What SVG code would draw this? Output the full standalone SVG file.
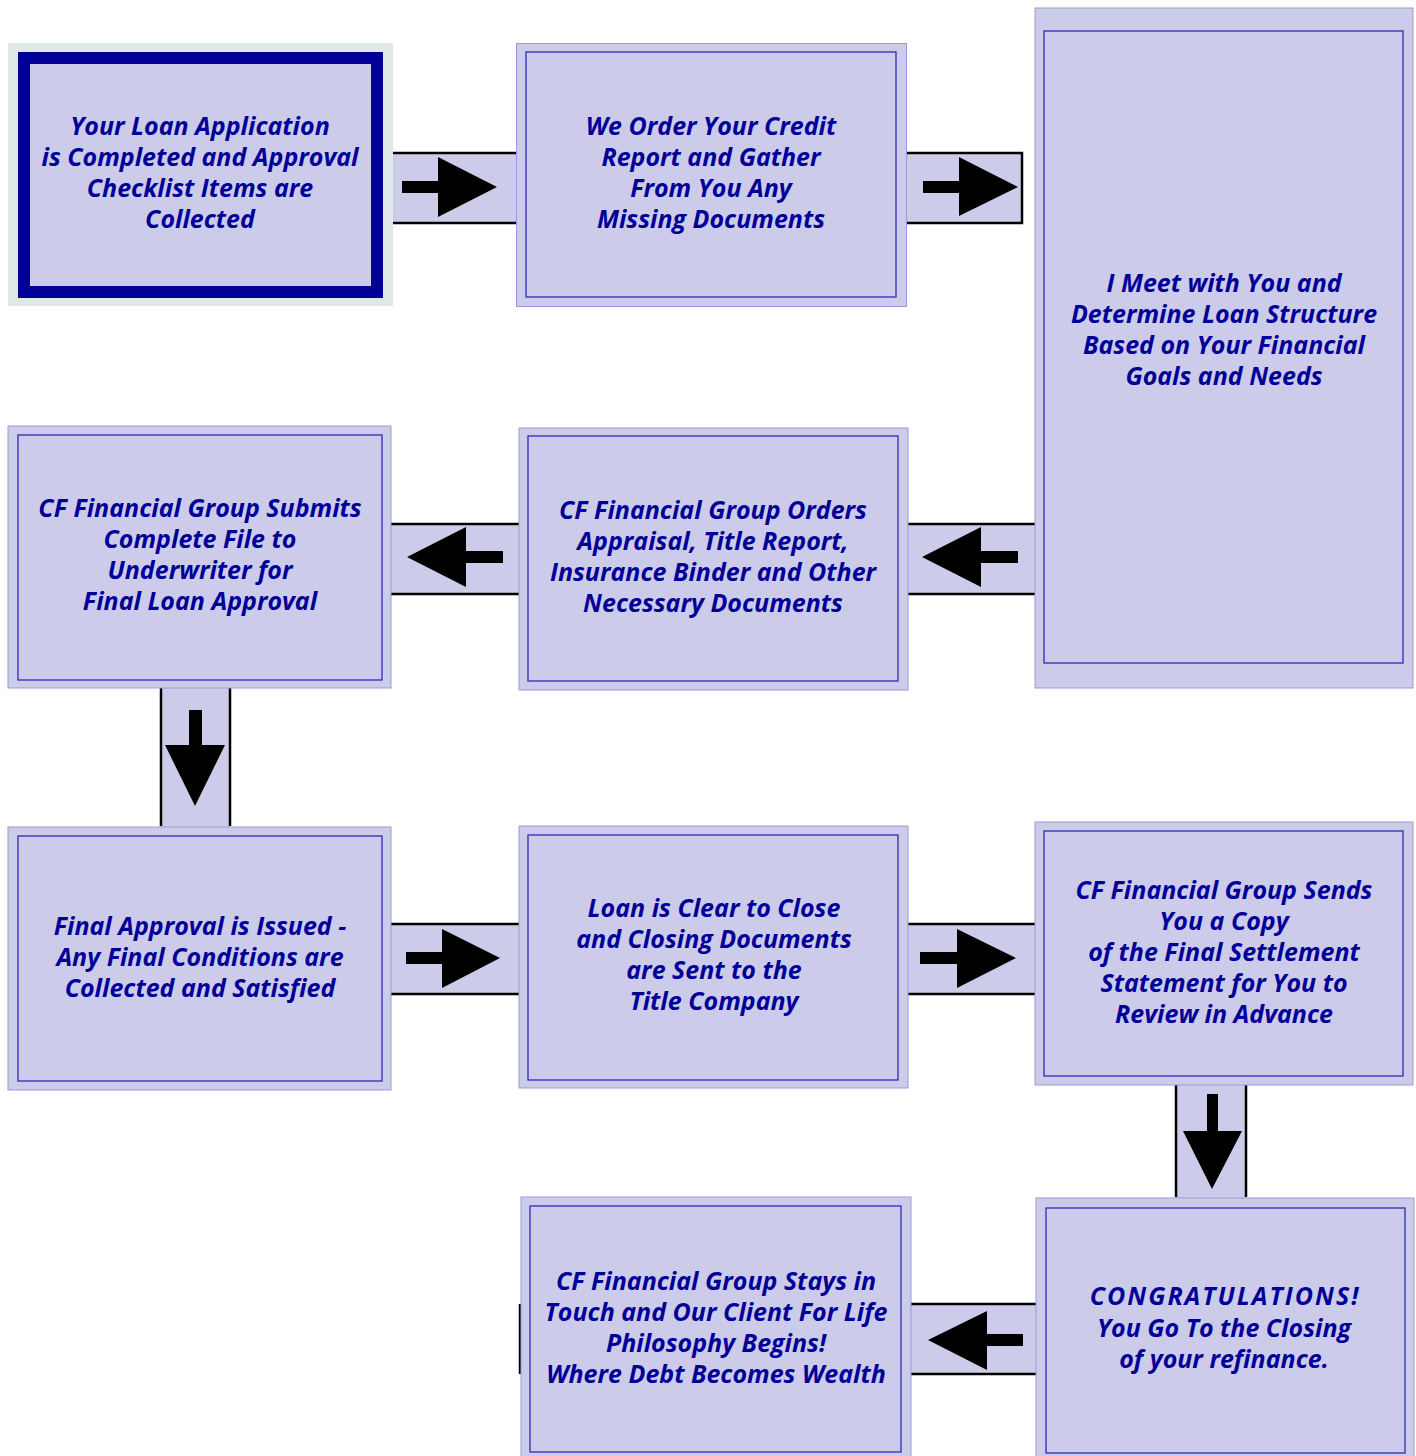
<svg xmlns="http://www.w3.org/2000/svg" width="1416" height="1456" viewBox="0 0 1416 1456">
<style>
.outer{fill:#CCCCEA;stroke:#9A9AD8;stroke-width:1}
.inner{fill:#CCCCEA;stroke:#2B2BB8;stroke-width:1.3}
.band{fill:#CCCCEA}
.edge{stroke:#000;stroke-width:2.5;fill:none}
.arr{fill:#000}
text{font-family:"Open Sans","Lato","Liberation Sans",sans-serif;font-weight:bold;font-style:italic;font-size:25px;fill:#000099;text-anchor:middle}
</style>
<rect width="1416" height="1456" fill="#fff"/>
<g id="connectors">
  <g id="c1-2"><rect class="band" x="393" y="153" width="124" height="70"/><line class="edge" x1="393" y1="153" x2="517" y2="153"/><line class="edge" x1="393" y1="223" x2="517" y2="223"/><polygon class="arr" points="402,181 438,181 438,157 497,187 438,217 438,193 402,193"/></g>
  <g id="c2-3"><rect class="band" x="906" y="153" width="116" height="70"/><polyline class="edge" points="906,153 1022,153 1022,223 906,223"/><polygon class="arr" points="923,181 959,181 959,157 1018,187 959,216 959,193 923,193"/></g>
  <g id="c3-5"><rect class="band" x="908" y="524" width="127" height="70"/><line class="edge" x1="908" y1="524" x2="1035" y2="524"/><line class="edge" x1="908" y1="594" x2="1035" y2="594"/><polygon class="arr" points="922,557 981,527 981,551 1018,551 1018,563 981,563 981,587"/></g>
  <g id="c5-4"><rect class="band" x="391" y="524" width="128" height="70"/><line class="edge" x1="391" y1="524" x2="519" y2="524"/><line class="edge" x1="391" y1="594" x2="519" y2="594"/><polygon class="arr" points="407,557 466,527 466,551 503,551 503,563 466,563 466,587"/></g>
  <g id="c4-6"><rect class="band" x="161" y="688" width="69" height="139"/><line class="edge" x1="161" y1="688" x2="161" y2="826"/><line class="edge" x1="230" y1="688" x2="230" y2="826"/><polygon class="arr" points="189,710 202,710 202,745 225,745 195,806 165,745 189,745"/></g>
  <g id="c6-7"><rect class="band" x="391" y="924" width="128" height="70"/><line class="edge" x1="391" y1="924" x2="519" y2="924"/><line class="edge" x1="391" y1="994" x2="519" y2="994"/><polygon class="arr" points="406,952 442,952 442,929 500,958 442,988 442,964 406,964"/></g>
  <g id="c7-8"><rect class="band" x="908" y="924" width="127" height="70"/><line class="edge" x1="908" y1="924" x2="1035" y2="924"/><line class="edge" x1="908" y1="994" x2="1035" y2="994"/><polygon class="arr" points="920,952 957,952 957,929 1016,958 957,988 957,964 920,964"/></g>
  <g id="c8-9"><rect class="band" x="1176" y="1085" width="70" height="113"/><line class="edge" x1="1176" y1="1085" x2="1176" y2="1197"/><line class="edge" x1="1246" y1="1085" x2="1246" y2="1197"/><polygon class="arr" points="1207,1094 1218,1094 1218,1131 1242,1131 1212,1189 1183,1131 1207,1131"/></g>
  <g id="c9-10"><rect class="band" x="911" y="1304" width="125" height="70"/><line class="edge" x1="911" y1="1304" x2="1036" y2="1304"/><line class="edge" x1="911" y1="1374" x2="1036" y2="1374"/><polygon class="arr" points="928,1340 987,1311 987,1334 1023,1334 1023,1346 987,1346 987,1370"/><line class="edge" x1="520" y1="1304" x2="520" y2="1374"/></g>
</g>
<g id="n1">
  <rect x="8" y="43" width="385" height="263" fill="#E0E8EA"/>
  <rect x="24" y="58" width="353" height="234" fill="#CCCCEA" stroke="#000099" stroke-width="12"/>
  <text x="200" y="135">Your Loan Application</text>
  <text x="200" y="166">is Completed and Approval</text>
  <text x="200" y="197">Checklist Items are</text>
  <text x="200" y="228">Collected</text>
</g>
<g id="n2">
  <rect class="outer" x="516.5" y="43.5" width="390" height="263"/>
  <rect class="inner" x="526" y="52" width="370" height="245"/>
  <text x="711" y="135">We Order Your Credit</text>
  <text x="711" y="166">Report and Gather</text>
  <text x="711" y="197">From You Any</text>
  <text x="711" y="228">Missing Documents</text>
</g>
<g id="n3">
  <rect class="outer" x="1035" y="8" width="378" height="680"/>
  <rect class="inner" x="1044" y="31" width="359" height="632"/>
  <text x="1224" y="292">I Meet with You and</text>
  <text x="1224" y="323">Determine Loan Structure</text>
  <text x="1224" y="354">Based on Your Financial</text>
  <text x="1224" y="385">Goals and Needs</text>
</g>
<g id="n4">
  <rect class="outer" x="8" y="426" width="383" height="262"/>
  <rect class="inner" x="18" y="435" width="364" height="245"/>
  <text x="200" y="517">CF Financial Group Submits</text>
  <text x="200" y="548">Complete File to</text>
  <text x="200" y="579">Underwriter for</text>
  <text x="200" y="610">Final Loan Approval</text>
</g>
<g id="n5">
  <rect class="outer" x="519" y="428" width="389" height="262"/>
  <rect class="inner" x="528" y="436" width="370" height="245"/>
  <text x="713" y="519">CF Financial Group Orders</text>
  <text x="713" y="550">Appraisal, Title Report,</text>
  <text x="713" y="581">Insurance Binder and Other</text>
  <text x="713" y="612">Necessary Documents</text>
</g>
<g id="n6">
  <rect class="outer" x="8" y="827" width="383" height="263"/>
  <rect class="inner" x="18" y="836" width="364" height="245"/>
  <text x="200" y="935">Final Approval is Issued -</text>
  <text x="200" y="966">Any Final Conditions are</text>
  <text x="200" y="997">Collected and Satisfied</text>
</g>
<g id="n7">
  <rect class="outer" x="519" y="826" width="389" height="262"/>
  <rect class="inner" x="528" y="835" width="370" height="245"/>
  <text x="714" y="917">Loan is Clear to Close</text>
  <text x="714" y="948">and Closing Documents</text>
  <text x="714" y="979">are Sent to the</text>
  <text x="714" y="1010">Title Company</text>
</g>
<g id="n8">
  <rect class="outer" x="1035" y="822" width="378" height="263"/>
  <rect class="inner" x="1044" y="831" width="359" height="245"/>
  <text x="1224" y="899">CF Financial Group Sends</text>
  <text x="1224" y="930">You a Copy</text>
  <text x="1224" y="961">of the Final Settlement</text>
  <text x="1224" y="992">Statement for You to</text>
  <text x="1224" y="1023">Review in Advance</text>
</g>
<g id="n9">
  <rect class="outer" x="1036" y="1198" width="378" height="262"/>
  <rect class="inner" x="1046" y="1208" width="359" height="245"/>
  <text x="1225" y="1305" letter-spacing="2">CONGRATULATIONS!</text>
  <text x="1224" y="1337">You Go To the Closing</text>
  <text x="1224" y="1368">of your refinance.</text>
</g>
<g id="n10">
  <rect class="outer" x="521" y="1197" width="390" height="262"/>
  <rect class="inner" x="530" y="1206" width="371" height="246"/>
  <text x="716" y="1290">CF Financial Group Stays in</text>
  <text x="716" y="1321">Touch and Our Client For Life</text>
  <text x="716" y="1352">Philosophy Begins!</text>
  <text x="716" y="1383">Where Debt Becomes Wealth</text>
</g>
</svg>
